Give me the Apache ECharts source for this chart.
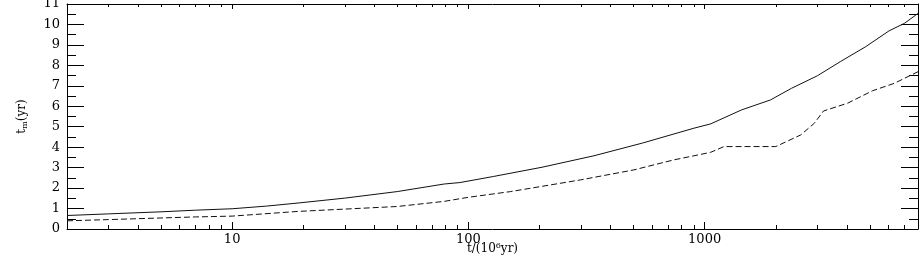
<!DOCTYPE html>
<html>
<head>
<meta charset="utf-8">
<script src="https://cdn.jsdelivr.net/npm/echarts@6/dist/echarts.min.js"></script>
<style>
  html, body { margin: 0; padding: 0; background: #fff; }
  #chart { width: 921px; height: 255px; }
</style>
</head>
<body>
<div id="chart"></div>
<script>
// time in 10^6 yr
const solidT = [2, 3, 5, 7, 10, 14, 19, 30, 50, 79, 92, 128, 205, 340, 545, 902, 1061, 1431, 1900, 2333, 3000, 3750, 4800, 6040, 7000, 8000];
const solidV = [0.66, 0.74, 0.84, 0.92, 0.99, 1.12, 1.27, 1.51, 1.83, 2.20, 2.27, 2.57, 3.02, 3.58, 4.20, 4.93, 5.14, 5.82, 6.31, 6.88, 7.49, 8.18, 8.91, 9.69, 10.05, 10.54];

const dashT = [2, 3, 5, 7, 10, 19, 50, 79, 100, 151, 298, 502, 741, 902, 1061, 1208, 2000, 2553, 2911, 3186, 4027, 5138, 6344, 8000];
const dashV = [0.40, 0.46, 0.54, 0.59, 0.63, 0.86, 1.10, 1.35, 1.55, 1.83, 2.40, 2.89, 3.38, 3.58, 3.75, 4.03, 4.03, 4.60, 5.17, 5.77, 6.15, 6.76, 7.12, 7.69];

const majorTicks = [10, 100, 1000];
const minorTicks = [2, 3, 4, 5, 6, 7, 8, 9, 20, 30, 40, 50, 60, 70, 80, 90,
  200, 300, 400, 500, 600, 700, 800, 900, 2000, 3000, 4000, 5000, 6000, 7000, 8000];

const font = 'DejaVu Serif';
const chart = echarts.init(document.getElementById('chart'));

// hidden split lines: v6 drops ticks on edge axes otherwise
const noSplit = { show: true, lineStyle: { color: 'rgba(0,0,0,0)' } };

function xAxisBase(pos) {
  return {
    type: 'log',
    logBase: 10,
    min: 2,
    max: 8000,
    position: pos,
    offset: 0.01,
    splitLine: noSplit,
    axisLine: { show: true, onZero: false, lineStyle: { color: '#000', width: 1 } },
    axisLabel: { show: false },
    axisTick: { show: false }
  };
}

function yAxisBase(pos) {
  return {
    type: 'value',
    min: 0,
    max: 11,
    interval: 1,
    position: pos,
    offset: 0.01,
    splitLine: noSplit,
    axisLine: { show: true, onZero: false, lineStyle: { color: '#000', width: 1 } },
    axisTick: { show: true, inside: true, length: 17, lineStyle: { color: '#000' } },
    minorTick: { show: true, splitNumber: 2, length: 9, lineStyle: { color: '#000' } },
    axisLabel: { show: false }
  };
}

const xBottom = xAxisBase('bottom');
xBottom.axisTick = { show: true, inside: true, length: 7, customValues: majorTicks, lineStyle: { color: '#000' } };
xBottom.axisLabel = {
  show: true, customValues: majorTicks, color: '#000', fontFamily: font, fontSize: 13, margin: 4,
  formatter: v => String(v)
};
xBottom.name = '{n|t/(10}{s|6}{n|yr)}';
xBottom.nameLocation = 'middle';
xBottom.nameGap = 13;
xBottom.nameMoveOverlap = false;
xBottom.nameTextStyle = {
  rich: {
    n: { fontFamily: font, fontSize: 12, color: '#000' },
    s: { fontFamily: font, fontSize: 8, color: '#000', padding: [0, 0, 6, 0] }
  }
};

const xBottomMinor = xAxisBase('bottom');
xBottomMinor.axisLine = { show: false, onZero: false };
xBottomMinor.axisTick = { show: true, inside: true, length: 4, customValues: minorTicks, lineStyle: { color: '#000' } };

const xTop = xAxisBase('top');
xTop.axisTick = { show: true, inside: true, length: 5, customValues: majorTicks, lineStyle: { color: '#000' } };

const xTopMinor = xAxisBase('top');
xTopMinor.axisLine = { show: false, onZero: false };
xTopMinor.axisTick = { show: true, inside: true, length: 3, customValues: minorTicks, lineStyle: { color: '#000' } };

const yLeft = yAxisBase('left');
yLeft.axisLabel = { show: true, color: '#000', fontFamily: font, fontSize: 13, margin: 7 };
yLeft.name = '{n|t}{s|m}{n|(yr)}';
yLeft.nameLocation = 'middle';
yLeft.nameRotate = 90;
yLeft.nameGap = 38;
yLeft.nameMoveOverlap = false;
yLeft.nameTextStyle = {
  rich: {
    n: { fontFamily: font, fontSize: 12, color: '#000' },
    s: { fontFamily: font, fontSize: 8, color: '#000', padding: [6, 0, 0, 0] }
  }
};

const yRight = yAxisBase('right');

const option = {
  animation: false,
  backgroundColor: '#fff',
  grid: { left: 67, right: 3, top: 4, bottom: 26, outerBoundsMode: 'none' },
  xAxis: [xBottom, xBottomMinor, xTop, xTopMinor],
  yAxis: [yLeft, yRight],
  series: [
    {
      name: 'solid',
      type: 'line',
      xAxisIndex: 0,
      yAxisIndex: 0,
      showSymbol: false,
      lineStyle: { color: '#111', width: 1 },
      data: solidT.map((t, i) => [t, solidV[i]])
    },
    {
      name: 'dashed',
      type: 'line',
      xAxisIndex: 0,
      yAxisIndex: 0,
      showSymbol: false,
      lineStyle: { color: '#111', width: 1, type: [6, 3] },
      data: dashT.map((t, i) => [t, dashV[i]])
    }
  ]
};

chart.setOption(option);

window.addEventListener('resize', function () {
  chart.resize();
});
</script>
</body>
</html>
